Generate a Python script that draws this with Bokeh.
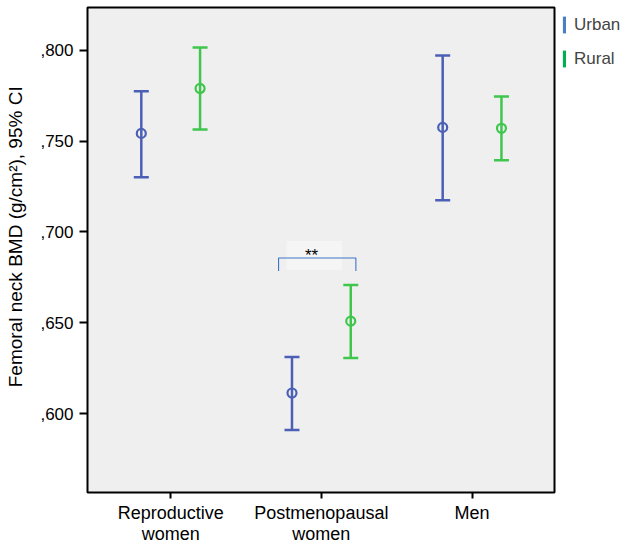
from bokeh.plotting import figure
from bokeh.layouts import row
from bokeh.models import (ColumnDataSource, Whisker, TeeHead, FixedTicker, Range1d,
                          Legend, LegendItem)
from bokeh.embed import file_html
from bokeh.resources import INLINE
from bokeh.core.properties import value

# ---- data ----
categories = ["Reproductive\nwomen", "Postmenopausal\nwomen", "Men"]
cat_pos = [1, 2, 3]
series_names = ["Urban", "Rural"]
urban_mean = [0.7542, 0.6115, 0.7575]
urban_lo = [0.7301, 0.5912, 0.7174]
urban_hi = [0.7773, 0.6313, 0.7970]
rural_mean = [0.7789, 0.6510, 0.7570]
rural_lo = [0.7564, 0.6307, 0.7394]
rural_hi = [0.8014, 0.6708, 0.7745]
y_ticks = [0.600, 0.650, 0.700, 0.750, 0.800]
y_tick_labels = [",600", ",650", ",700", ",750", ",800"]
group_offset = 0.195
# significance bracket (Postmenopausal urban vs rural)
sig_x = [1.716, 2.229]
sig_y_top = 0.6857
sig_y_bot = 0.6786
sig_label = "**"
sig_label_x = 1.935
sig_label_y = 0.6873

URBAN = "#4b5fb6"
RURAL = "#3fc64c"
URBAN_LEG = "#4a7fc1"
RURAL_LEG = "#00b04f"
FONT = "Liberation Sans"

p = figure(width=556, height=546, output_backend="svg", toolbar_location=None,
           x_range=Range1d(0.448, 3.547), y_range=Range1d(0.5568, 0.8234),
           min_border_left=87, min_border_top=7, min_border_bottom=52, min_border_right=2)
p.background_fill_color = "#efefef"
p.border_fill_color = "white"
p.outline_line_color = "black"
p.outline_line_width = 2
p.xgrid.visible = False
p.ygrid.visible = False

# axes
p.xaxis.ticker = FixedTicker(ticks=cat_pos)
p.xaxis.major_label_overrides = {c: l for c, l in zip(cat_pos, categories)}
p.yaxis.ticker = FixedTicker(ticks=y_ticks)
p.yaxis.major_label_overrides = {t: l for t, l in zip(y_ticks, y_tick_labels)}
for ax in (p.xaxis, p.yaxis):
    ax.axis_line_color = None
    ax.minor_tick_line_color = None
    ax.major_tick_in = 0
    ax.major_tick_line_color = "black"
    ax.major_tick_line_width = 2
    ax.major_label_text_font = FONT
    ax.major_label_text_color = "black"
p.xaxis.major_label_text_font_size = "18px"
p.xaxis.major_label_text_line_height = 1.05
p.yaxis.major_label_text_font_size = "17px"
p.xaxis.major_tick_out = 6
p.yaxis.major_tick_out = 8
p.xaxis.major_label_standoff = 4
p.yaxis.major_label_standoff = 6
# leading no-break spaces shift the centred label upwards, as in the reference
p.yaxis.axis_label = "\u00a0" * 5 + "Femoral neck BMD (g/cm²), 95% CI"
p.yaxis.axis_label_text_font = FONT
p.yaxis.axis_label_text_font_style = "normal"
p.yaxis.axis_label_text_font_size = "19px"
p.yaxis.axis_label_text_color = "black"
p.yaxis.axis_label_standoff = 11

# error bars
ux = [c - group_offset for c in cat_pos]
rx = [c + group_offset for c in cat_pos]
usrc = ColumnDataSource(dict(x=ux, m=urban_mean, lo=urban_lo, hi=urban_hi))
rsrc = ColumnDataSource(dict(x=rx, m=rural_mean, lo=rural_lo, hi=rural_hi))
for src, col in ((usrc, URBAN), (rsrc, RURAL)):
    w = Whisker(source=src, base="x", upper="hi", lower="lo", dimension="height",
                line_color=col, line_width=2.5,
                upper_head=TeeHead(size=15, line_color=col, line_width=2.5),
                lower_head=TeeHead(size=15, line_color=col, line_width=2.5))
    p.add_layout(w)
    p.scatter("x", "m", source=src, size=9, fill_color=None, line_color=col, line_width=2.2)

# significance bracket
p.quad(left=[1.769], right=[2.135], bottom=[0.6791], top=[0.6951],
       fill_color="#f5f5f5", line_color=None)
p.line(x=[sig_x[0], sig_x[0], sig_x[1], sig_x[1]],
       y=[sig_y_bot, sig_y_top, sig_y_top, sig_y_bot], line_color="#3f74c8", line_width=1.1)
p.text(x=[sig_label_x], y=[sig_label_y], text=[sig_label],
       text_font=value(FONT), text_font_size="17px", text_align="center",
       text_baseline="alphabetic", text_color="black")

# legend panel (separate small figure to the right of the frame)
lf = figure(width=66, height=546, output_backend="svg", toolbar_location=None,
            x_range=Range1d(0, 1), y_range=Range1d(0, 1),
            min_border=0, outline_line_color=None)
lf.axis.visible = False
lf.grid.visible = False
lf.background_fill_color = "white"
ur = lf.vbar(x=[float("nan")], top=[float("nan")], width=0.1, fill_color=URBAN_LEG, line_color=None)
rr = lf.vbar(x=[float("nan")], top=[float("nan")], width=0.1, fill_color=RURAL_LEG, line_color=None)
legend = Legend(items=[LegendItem(label=series_names[0], renderers=[ur]),
                       LegendItem(label=series_names[1], renderers=[rr])],
                location=(6, 423), orientation="vertical",
                glyph_width=4, glyph_height=21, label_height=21, spacing=13,
                label_standoff=8, padding=0, margin=0,
                label_text_font=FONT, label_text_font_size="17px",
                border_line_color=None, background_fill_alpha=0)
lf.add_layout(legend)

layout = row(p, lf, spacing=0)
open("out.html", "w").write(file_html(layout, INLINE))
